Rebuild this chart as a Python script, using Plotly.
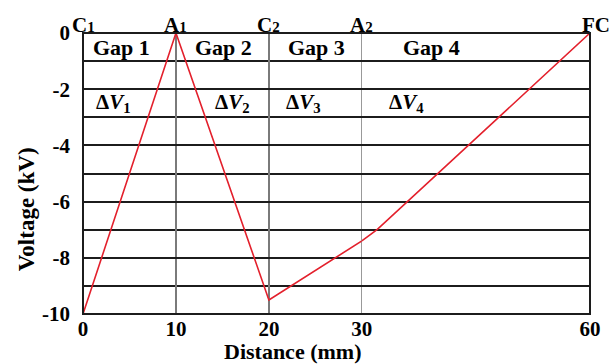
import plotly.graph_objects as go

# Potential profile along the electrode stack
dist_a = [0, 10, 20, 30]          # mm, gaps 1-3
volt_a = [-10.0, 0.0, -9.5, -7.4]  # kV
dist_b = [30, 32, 60]             # mm, gap 4
volt_b = [-7.4, -7.0, 0.0]        # kV

x_ticks_a = [0, 10, 20, 30]
x_ticks_b = [60]
y_ticks = [0, -2, -4, -6, -8, -10]
y_tick_text = ["0", "-2", "-4", "-6", "-8", "-10"]

SMALL = "<span style='font-size:15px'>{}</span>"
electrodes = [("C" + SMALL.format("1"), "x", 0), ("A" + SMALL.format("1"), "x", 10),
              ("C" + SMALL.format("2"), "x", 20), ("A" + SMALL.format("2"), "x", 30),
              ("FC", "x2", 60)]
gap_names = ["Gap 1", "Gap 2", "Gap 3", "Gap 4"]
dv_names = ["1", "2", "3", "4"]

SERIF = "Liberation Serif"
LINE_RED = "#e3202c"

fig = go.Figure()
fig.add_trace(go.Scatter(x=dist_a, y=volt_a, mode="lines", xaxis="x", yaxis="y",
                         line=dict(color=LINE_RED, width=1.6), showlegend=False))
fig.add_trace(go.Scatter(x=dist_b, y=volt_b, mode="lines", xaxis="x2", yaxis="y",
                         line=dict(color=LINE_RED, width=1.6), showlegend=False))

split = 0.55
tick_font = dict(family=SERIF, size=21, color="black", weight="bold")

fig.update_layout(
    width=613, height=364,
    margin=dict(l=83, r=21, t=33, b=50),
    paper_bgcolor="white", plot_bgcolor="white",
    xaxis=dict(domain=[0, split], range=[0, 30], tickvals=x_ticks_a,
               showgrid=True, gridcolor="#7a7a7a", gridwidth=1.5,
               zeroline=False, showline=False, ticks="", ticklabelstandoff=0,
               tickfont=tick_font),
    xaxis2=dict(domain=[split, 1], range=[30, 60], tickvals=x_ticks_b,
                anchor="y", showgrid=False, zeroline=False, showline=False,
                ticks="", ticklabelstandoff=0, tickfont=tick_font),
    yaxis=dict(range=[-10, 0], tickvals=y_ticks, ticktext=y_tick_text,
               showgrid=True, gridcolor="#1c1c1c", gridwidth=2, zeroline=False,
               showline=False, ticks="", tickfont=tick_font,
               ticklabelstandoff=12,
               minor=dict(dtick=1, showgrid=True, gridcolor="#1c1c1c", gridwidth=2)),
)

# Divider between gap 3 and gap 4, and the outer frame
fig.add_shape(type="line", xref="x", yref="paper", x0=30, x1=30, y0=0, y1=1,
              line=dict(color="#7a7a7a", width=1.5), layer="below")
fig.add_shape(type="rect", xref="paper", yref="paper", x0=0, x1=1, y0=0, y1=1,
              line=dict(color="#1c1c1c", width=2))

# Electrode names along the top
for name, xr, xv in electrodes:
    fig.add_annotation(text=name, xref=xr, yref="paper", x=xv, y=1,
                       xanchor="center", yanchor="bottom", showarrow=False,
                       xshift=6 if name == "FC" else 0, yshift=-6,
                       font=dict(family=SERIF, size=21, color="black", weight="bold"))

# Gap labels
gap_pos = [("x", 4.1), ("x", 15.1), ("x", 25.1), ("x2", 39.1)]
for name, (xr, xv) in zip(gap_names, gap_pos):
    fig.add_annotation(text=name, xref=xr, yref="y", x=xv, y=-0.5,
                       showarrow=False, xanchor="center", yanchor="middle",
                       font=dict(family=SERIF, size=22, color="black", weight="bold"))

# Voltage drop labels
dv_pos = [("x", 3.3), ("x", 16.1), ("x", 23.7), ("x2", 35.9)]
for idx, (xr, xv) in zip(dv_names, dv_pos):
    fig.add_annotation(text="Δ<i>V</i><sub>" + idx + "</sub>", xref=xr, yref="y",
                       x=xv, y=-2.5, showarrow=False, xanchor="center", yanchor="middle",
                       font=dict(family=SERIF, size=21, color="black", weight="bold"))

# Axis titles
fig.add_annotation(text="Distance (mm)", xref="paper", yref="paper", x=0.4126, y=-0.135,
                   xanchor="center", yanchor="middle", showarrow=False,
                   font=dict(family=SERIF, size=22, color="black", weight="bold"))
fig.add_annotation(text="Voltage (kV)", xref="paper", yref="paper", x=-0.11, y=0.374,
                   xanchor="center", yanchor="middle", showarrow=False, textangle=-90,
                   font=dict(family=SERIF, size=23, color="black", weight="bold"))

fig.write_html("out.html")
